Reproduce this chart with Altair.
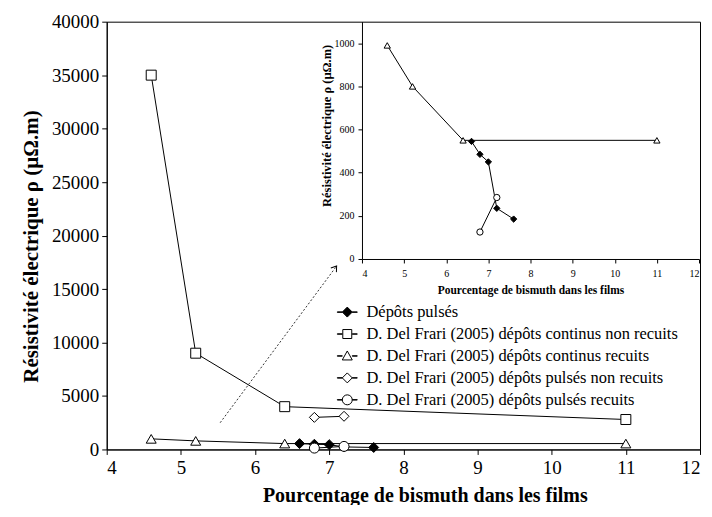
import altair as alt
import pandas as pd

FONT = "Liberation Serif"

series_names = [
    "Dépôts pulsés",
    "D. Del Frari (2005) dépôts continus non recuits",
    "D. Del Frari (2005) dépôts continus recuits",
    "D. Del Frari (2005) dépôts pulsés non recuits",
    "D. Del Frari (2005) dépôts pulsés recuits",
]

pulses_x = [6.6, 6.8, 7.0, 7.2, 7.6]
pulses_y = [545, 485, 450, 235, 185]
cont_nr_x = [4.6, 5.2, 6.4, 11.0]
cont_nr_y = [35000, 9000, 4000, 2800]
cont_r_x = [4.6, 5.2, 6.4, 11.0]
cont_r_y = [990, 800, 550, 550]
puls_nr_x = [6.8, 7.2]
puls_nr_y = [3000, 3100]
puls_r_x = [6.8, 7.2]
puls_r_y = [125, 285]

x_ticks = [4, 5, 6, 7, 8, 9, 10, 11, 12]
y_ticks = [0, 5000, 10000, 15000, 20000, 25000, 30000, 35000, 40000]
inset_y_ticks = [0, 200, 400, 600, 800, 1000]

arrow_x = [5.53, 7.10]
arrow_y = [2500, 17150]

x_title = "Pourcentage de bismuth dans les films"
y_title = "Résistivité électrique ρ (µΩ.m)"

shape_builtin = ["diamond", "square", "triangle-up", "diamond", "circle"]
fill_range = ["black", "white", "white", "white", "white"]
stroke_range = ["black", "black", "black", "black", "black"]

# legend symbols: marker plus short connector bars on each side
BARS = "M -2 -0.04 L -1 -0.04 L -1 0.04 L -2 0.04 Z M 1 -0.04 L 2 -0.04 L 2 0.04 L 1 0.04 Z "
legend_paths = [
    BARS + "M 0 -1 L 1 0 L 0 1 L -1 0 Z",
    BARS + "M -0.9 -0.9 L 0.9 -0.9 L 0.9 0.9 L -0.9 0.9 Z",
    BARS + "M 0 -1 L 1 0.8 L -1 0.8 Z",
    BARS + "M 0 -1 L 1 0 L 0 1 L -1 0 Z",
    BARS + "M -1 0 A 1 1 0 1 0 1 0 A 1 1 0 1 0 -1 0 Z",
]


def frame(names, xs_list, ys_list):
    rows = []
    for name, xs, ys in zip(names, xs_list, ys_list):
        for i, (x, y) in enumerate(zip(xs, ys)):
            rows.append({"series": name, "x": x, "y": y, "idx": i})
    return pd.DataFrame(rows)


main_df = frame(series_names,
                [pulses_x, cont_nr_x, cont_r_x, puls_nr_x, puls_r_x],
                [pulses_y, cont_nr_y, cont_r_y, puls_nr_y, puls_r_y])
inset_df = frame([series_names[0], series_names[2], series_names[4]],
                 [pulses_x, cont_r_x, puls_r_x],
                 [pulses_y, cont_r_y, puls_r_y])
arrow_df = pd.DataFrame({"x": arrow_x, "y": arrow_y})

x_main = alt.X("x:Q", scale=alt.Scale(domain=[4, 12], nice=False),
               axis=alt.Axis(values=x_ticks, title=x_title, labelFont=FONT, titleFont=FONT,
                             labelFontSize=19, titleFontSize=20, titleFontWeight="bold",
                             tickSize=5, labelPadding=4, titleX=319, titleY=46,
                             titleBaseline="middle"))
y_main = alt.Y("y:Q", scale=alt.Scale(domain=[0, 40000], nice=False),
               axis=alt.Axis(values=y_ticks, format="d", title=y_title,
                             labelFont=FONT, titleFont=FONT,
                             labelFontSize=19, titleFontSize=21,
                             titleFontWeight="bold", tickSize=5, labelPadding=3,
                             titleX=-75, titleY=225, titleBaseline="middle"))

shape_main = alt.Shape("series:N", scale=alt.Scale(domain=series_names, range=shape_builtin), legend=None)
fill_main = alt.Fill("series:N", scale=alt.Scale(domain=series_names, range=fill_range), legend=None)

lines = alt.Chart(main_df).mark_line(color="black", strokeWidth=1).encode(
    x=x_main, y=y_main, detail="series:N", order="idx:Q")
points = alt.Chart(main_df).mark_point(filled=True, stroke="black", strokeWidth=1,
                                       size=100, opacity=1).encode(
    x=x_main, y=y_main, shape=shape_main, fill=fill_main)

arrow_line = alt.Chart(arrow_df).mark_line(color="black", strokeWidth=0.8,
                                           strokeDash=[2, 2]).encode(x=x_main, y=y_main)
arrow_head = alt.Chart(arrow_df.iloc[[1]]).mark_point(
    shape="M -0.7 1 L 0 0 L 0.7 1", angle=37, size=100, filled=False,
    color="black", strokeWidth=1, opacity=1).encode(x=x_main, y=y_main)

leg = alt.Legend(title=None, orient="none", legendX=233, legendY=283,
                 labelFont=FONT, labelFontSize=16.5, labelColor="black",
                 symbolSize=100, symbolStrokeColor="black", symbolStrokeWidth=1,
                 labelOffset=11, rowPadding=5, padding=0, labelLimit=0)
legend_layer = alt.Chart(main_df).transform_filter("datum.x > 100").mark_point(
    filled=True, strokeWidth=1, opacity=1).encode(
    x=x_main, y=y_main,
    shape=alt.Shape("series:N", scale=alt.Scale(domain=series_names, range=legend_paths), legend=leg),
    fill=alt.Fill("series:N", scale=alt.Scale(domain=series_names, range=fill_range), legend=leg),
    stroke=alt.Stroke("series:N", scale=alt.Scale(domain=series_names, range=stroke_range), legend=leg))

main = alt.layer(lines, points, arrow_line, arrow_head, legend_layer).resolve_scale(
    shape="independent", fill="independent", stroke="independent")

x_in = alt.X("x:Q", scale=alt.Scale(domain=[4, 12], range=[256, 594], nice=False),
             axis=alt.Axis(orient="bottom", offset=-191, values=x_ticks, title=x_title,
                           labelFont=FONT, titleFont=FONT,
                           labelFontSize=10, titleFontSize=11.5, titleFontWeight="bold",
                           tickSize=4, labelPadding=6, titleY=32,
                           titleBaseline="middle"))
y_in = alt.Y("y:Q", scale=alt.Scale(domain=[0, 1100], range=[238, 0], nice=False),
             axis=alt.Axis(orient="left", offset=-256, values=inset_y_ticks, format="d",
                           title=y_title, labelFont=FONT, titleFont=FONT,
                           labelFontSize=10, titleFontSize=12.5,
                           titleFontWeight="bold", tickSize=4, labelPadding=4,
                           titleX=-36, titleY=104, titleBaseline="middle"))

inset_lines = alt.Chart(inset_df).mark_line(color="black", strokeWidth=1).encode(
    x=x_in, y=y_in, detail="series:N", order="idx:Q")
inset_points = alt.Chart(inset_df).mark_point(filled=True, stroke="black", strokeWidth=1,
                                              size=40, opacity=1).encode(
    x=x_in, y=y_in, shape=shape_main, fill=fill_main)
inset = alt.layer(inset_lines, inset_points)

chart = alt.layer(main, inset).resolve_scale(
    x="independent", y="independent", shape="independent", fill="independent",
    stroke="independent"
).properties(
    width=595, height=429,
    autosize=alt.AutoSizeParams(type="none"),
    padding={"left": 99, "top": 13, "right": 4, "bottom": 55},
).configure(font=FONT).configure_axis(
    domainColor="black", tickColor="black", labelColor="black", titleColor="black",
    grid=False, labelFont=FONT, titleFont=FONT, domainWidth=1, tickWidth=1
).configure_legend(labelFont=FONT).configure_view(stroke="black", strokeWidth=1)

chart.save("out.html", embed_options={"renderer": "svg", "actions": False})
